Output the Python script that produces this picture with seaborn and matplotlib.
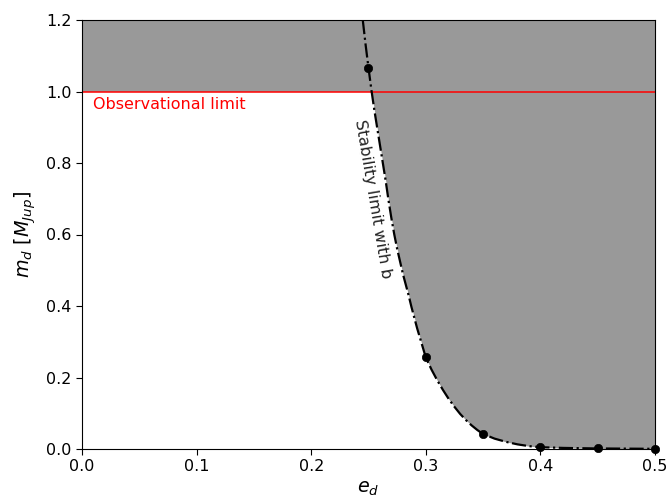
import matplotlib
matplotlib.use("Agg")
import matplotlib.pyplot as plt
import seaborn as sns
import pandas as pd

# Stability-limit curve
curve_e = [0.245, 0.2475, 0.25, 0.2525, 0.255, 0.2575, 0.26, 0.2625, 0.265,
           0.2675, 0.27, 0.2725, 0.275, 0.2775, 0.28, 0.2825, 0.285, 0.2875,
           0.29, 0.2925, 0.295, 0.2975, 0.30, 0.305, 0.31, 0.315, 0.32, 0.325,
           0.33, 0.335, 0.34, 0.345, 0.35, 0.36, 0.37, 0.38, 0.39, 0.40,
           0.42, 0.45, 0.475, 0.50]
curve_m = [1.20, 1.13, 1.066, 1.005, 0.95, 0.90, 0.85, 0.80, 0.75,
           0.695, 0.645, 0.60, 0.56, 0.525, 0.49, 0.46, 0.43, 0.397,
           0.367, 0.337, 0.31, 0.283, 0.256, 0.222, 0.192, 0.165, 0.140, 0.118,
           0.098, 0.081, 0.066, 0.053, 0.042, 0.029, 0.020, 0.013, 0.008, 0.005,
           0.003, 0.0015, 0.001, 0.0005]

# Simulated points
point_e = [0.25, 0.30, 0.35, 0.40, 0.45, 0.50]
point_m = [1.066, 0.256, 0.042, 0.005, 0.0015, 0.0005]

obs_limit = 1.0
x_range = [0.0, 0.5]
y_range = [0.0, 1.2]

curve_df = pd.DataFrame({"e": curve_e, "m": curve_m})
point_df = pd.DataFrame({"e": point_e, "m": point_m})

plt.rcParams["xtick.labelsize"] = 11.5
plt.rcParams["ytick.labelsize"] = 11.5
plt.rcParams["xtick.major.size"] = 4
plt.rcParams["ytick.major.size"] = 4

fig = plt.figure(figsize=(6.7, 5.0), dpi=100)
ax = fig.add_axes([0.1224, 0.102, 0.8552, 0.858])

ax.axhspan(obs_limit, y_range[1], color="0.6", lw=0, zorder=0)
ax.fill_between(curve_df["e"], curve_df["m"], y_range[1], color="0.6", lw=0, zorder=0)
ax.axhline(obs_limit, color="red", lw=1.1, zorder=2)

sns.lineplot(data=curve_df, x="e", y="m", sort=False, color="k", lw=1.6,
             linestyle="-.", ax=ax, zorder=3)
sns.scatterplot(data=point_df, x="e", y="m", color="k", s=36, edgecolor="k",
                linewidth=0.5, ax=ax, zorder=4, clip_on=False)

ax.text(0.01, 0.963, "Observational limit", color="red", fontsize=11.5,
        ha="left", va="center")
ax.text(0.2540, 0.70, "Stability limit with b", color="#222222", fontsize=11.5,
        rotation=-80.4, rotation_mode="anchor", ha="center", va="center")

ax.set_xlim(*x_range)
ax.set_ylim(*y_range)
ax.set_xticks([0.0, 0.1, 0.2, 0.3, 0.4, 0.5])
ax.set_yticks([0.0, 0.2, 0.4, 0.6, 0.8, 1.0, 1.2])
ax.set_xlabel(r"$e_d$", fontsize=13.8, labelpad=3)
ax.set_ylabel(r"$m_d\ [M_{Jup}]$", fontsize=13.8, labelpad=6)

fig.savefig("out.png", dpi=100)
